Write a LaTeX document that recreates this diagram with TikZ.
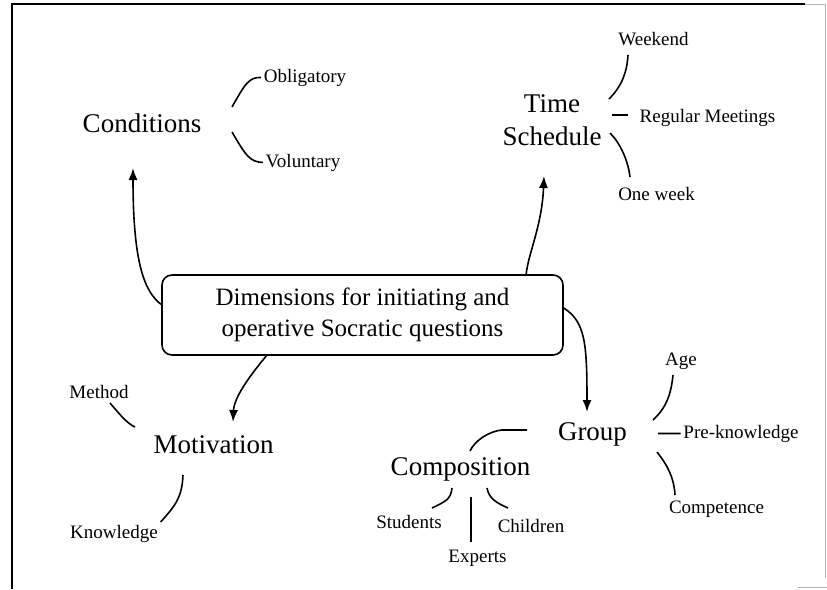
\documentclass[tikz,border=0pt]{standalone}
\usepackage{fontspec}
\setmainfont{Liberation Serif}
\usetikzlibrary{arrows.meta}

\begin{document}
\begin{tikzpicture}[x=1pt,y=-1pt,line width=1.6pt,
    big/.style={font=\fontsize{27}{33}\selectfont,anchor=base,inner sep=2pt,align=center},
    small/.style={font=\fontsize{19}{23}\selectfont,anchor=base,inner sep=2pt},
    mainbox/.style={draw,rounded corners=10pt,minimum width=401pt,minimum height=80pt,
      inner sep=0pt,align=center,font=\fontsize{25}{31}\selectfont},
    arr/.style={-{Latex[length=12pt,width=9pt]}}]
  \useasboundingbox (0,0) rectangle (827,589);
  % frame of the scan
  \draw[line width=2pt] (12,589) -- (12,4) -- (805,4);
  \draw[gray!60,line width=0.8pt] (805,4) -- (825,4) -- (825,578);
  \draw[gray!60,line width=0.8pt] (798,587) -- (827,587);

  \node[mainbox] (main) at (362.5,315) {Dimensions for initiating and\\operative Socratic questions};

  \node[big] (cond) at (142,132) {Conditions};
  \node[small] (oblig) at (305,82) {Obligatory};
  \node[small] (volun) at (303,167) {Voluntary};

  % base of a two-line node is its last line
  \node[big] (time) at (552,145) {Time\\Schedule};
  \node[small] (week) at (653.5,45) {Weekend};
  \node[small] (regular) at (707.5,122) {Regular Meetings};
  \node[small] (oneweek) at (656.5,200) {One week};

  \node[big] (motiv) at (213.5,453) {Motivation};
  \node[small] (method) at (99,398) {Method};
  \node[small] (knowl) at (114,538) {Knowledge};

  \node[big] (group) at (592.5,440) {Group};
  \node[small] (age) at (681,365) {Age};
  \node[small] (preknow) at (741,438) {Pre-knowledge};
  \node[small] (compet) at (716.5,513) {Competence};

  \node[big] (compos) at (460.5,475) {Composition};
  \node[small] (students) at (409,528) {Students};
  \node[small] (experts) at (477.5,562) {Experts};
  \node[small] (children) at (531,532) {Children};

  % arrow ends
  \coordinate (condin) at (133,168);
  \coordinate (timein) at (544,176);
  \coordinate (motivin) at (233,422);
  \coordinate (groupin) at (587,412);

  \draw[arr] (main.177) .. controls (145,292) and (133,265) .. (condin);
  \draw[arr] (main.14.5) .. controls (528,254) and (542,226) .. (timein);
  \draw[arr] (main.203) .. controls (248,378) and (234,398) .. (motivin);
  \draw[arr] (main.2) .. controls (585,322) and (587,342) .. (groupin);

  % branch ends
  \coordinate (c1) at (232,107);
  \coordinate (c2) at (232,132);
  \coordinate (t1) at (609,99);
  \coordinate (t2) at (628,55);
  \coordinate (t3) at (612,115);
  \coordinate (t4) at (610,133);
  \coordinate (t5) at (630,177);
  \coordinate (m1) at (135,427);
  \coordinate (m2) at (110,403);
  \coordinate (m3) at (183,475);
  \coordinate (g1) at (653,420);
  \coordinate (g2) at (673,375);
  \coordinate (g3) at (658,433.5);
  \coordinate (g4) at (657,452);
  \coordinate (g5) at (675,495);
  \coordinate (g6) at (527,430);
  \coordinate (g7) at (470,451);
  \coordinate (s1) at (452,488);
  \coordinate (s2) at (432,508);
  \coordinate (s3) at (471,497);
  \coordinate (s4) at (471,542);
  \coordinate (s5) at (487,488);
  \coordinate (s6) at (508,508);

  \draw (c1) .. controls (245,84) and (249,77) .. (oblig.west);
  \draw (c2) .. controls (246,156) and (250,162) .. (volun.west);
  \draw (t1) .. controls (622,86) and (627,72) .. (t2);
  \draw (t3) -- ++(16,0);
  \draw (t4) .. controls (620,143) and (628,160) .. (t5);
  \draw (m1) .. controls (128,424) and (121,416) .. (m2);
  \draw (m3) .. controls (182,497) and (176,505) .. (knowl.north east);
  \draw (g1) .. controls (666,408) and (671,395) .. (g2);
  \draw (g3) -- (preknow.west);
  \draw (g4) .. controls (668,466) and (674,478) .. (g5);
  \draw (g6) -- (502,430) .. controls (490,431) and (475,440) .. (g7);
  \draw (s1) .. controls (451,500) and (444,502) .. (s2);
  \draw (s3) -- (s4);
  \draw (s5) .. controls (489,499) and (497,503) .. (s6);
\end{tikzpicture}
\end{document}
